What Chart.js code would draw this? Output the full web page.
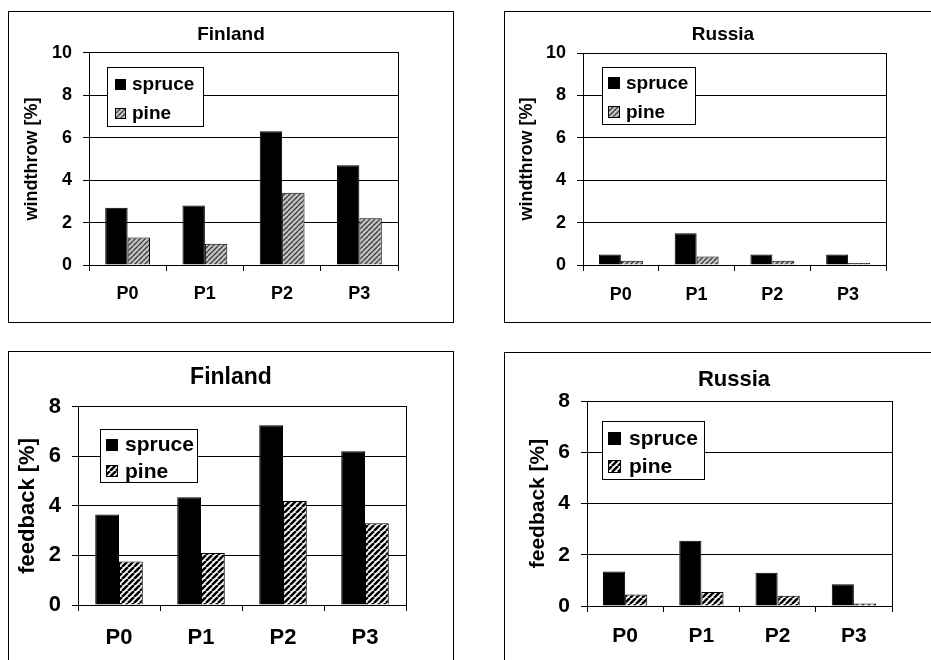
<!DOCTYPE html>
<html>
<head>
<meta charset="utf-8">
<script src="https://cdn.jsdelivr.net/npm/chart.js@4.4.1/dist/chart.umd.min.js"></script>
<style>
  html, body { margin: 0; padding: 0; background: #fff; overflow: hidden; width: 931px; height: 660px; }
  .box { position: absolute; }
  .frame { position: absolute; border: 1px solid #000; box-sizing: border-box; pointer-events: none; }
</style>
</head>
<body>
<div class="box" style="left:8px;top:11px;width:446px;height:312px"><canvas id="c1"></canvas></div>
<div class="frame" style="left:8px;top:11px;width:446px;height:312px"></div>
<div class="box" style="left:504px;top:11px;width:438px;height:312px"><canvas id="c2"></canvas></div>
<div class="frame" style="left:504px;top:11px;width:438px;height:312px"></div>
<div class="box" style="left:8px;top:351px;width:446px;height:312px"><canvas id="c3"></canvas></div>
<div class="frame" style="left:8px;top:351px;width:446px;height:312px"></div>
<div class="box" style="left:504px;top:352px;width:460px;height:312px"><canvas id="c4"></canvas></div>
<div class="frame" style="left:504px;top:352px;width:460px;height:312px"></div>
<script>
// data
var categories = ['P0', 'P1', 'P2', 'P3'];
var seriesNames = ['spruce', 'pine'];

var windFinlandSpruce = [2.7, 2.8, 6.3, 4.7];
var windFinlandPine = [1.3, 1.0, 3.4, 2.2];
var windRussiaSpruce = [0.5, 1.5, 0.5, 0.5];
var windRussiaPine = [0.2, 0.4, 0.2, 0.1];

var feedFinlandSpruce = [3.65, 4.35, 7.25, 6.2];
var feedFinlandPine = [1.75, 2.1, 4.2, 3.3];
var feedRussiaSpruce = [1.35, 2.55, 1.3, 0.85];
var feedRussiaPine = [0.45, 0.55, 0.4, 0.1];

var windTicks = [0, 2, 4, 6, 8, 10];
var feedTicks = [0, 2, 4, 6, 8];

Chart.defaults.font.family = '"Liberation Sans", Arial, sans-serif';
Chart.defaults.font.weight = 'bold';
Chart.defaults.color = '#000';

// diagonal hatch used for the pine bars
function hatch(bg, fg, size, lw) {
    var c = document.createElement('canvas');
    c.width = size;
    c.height = size;
    var x = c.getContext('2d');
    x.fillStyle = bg;
    x.fillRect(0, 0, size, size);
    x.strokeStyle = fg;
    x.lineWidth = lw;
    x.beginPath();
    [-size, 0, size].forEach(function (k) {
        x.moveTo(k, size);
        x.lineTo(k + size, 0);
    });
    x.stroke();
    return x.createPattern(c, 'repeat');
}

var greyHatch = hatch('#c4c4c4', '#3a3a3a', 5, 1.3);
var bwHatch = hatch('#ffffff', '#000000', 6, 2.6);

// legend in a white box inside the plot area
var boxLegend = {
    id: 'boxLegend',
    afterDatasetsDraw: function (chart, args, o) {
        var ctx = chart.ctx;
        var a = chart.chartArea;
        var x = Math.round(a.left + o.x);
        var y = Math.round(a.top + o.y);
        ctx.save();
        ctx.fillStyle = '#fff';
        ctx.fillRect(x, y, o.w, o.h);
        ctx.strokeStyle = '#000';
        ctx.lineWidth = 1;
        ctx.strokeRect(x + 0.5, y + 0.5, o.w, o.h);
        ctx.font = 'bold ' + o.font + 'px "Liberation Sans", Arial, sans-serif';
        ctx.textBaseline = 'middle';
        chart.data.datasets.forEach(function (ds, i) {
            var cy = y + o.rows[i];
            var sy = Math.round(cy - o.ss / 2);
            ctx.fillStyle = ds.backgroundColor;
            ctx.fillRect(x + o.sx, sy, o.ss, o.ss);
            ctx.strokeRect(x + o.sx + 0.5, sy + 0.5, o.ss - 1, o.ss - 1);
            ctx.fillStyle = '#000';
            ctx.fillText(ds.label, x + o.tx, cy + 1);
        });
        ctx.restore();
    }
};

function makeChart(id, p) {
    var ctx = document.getElementById(id).getContext('2d');
    return new Chart(ctx, {
        type: 'bar',
        data: {
            labels: categories,
            datasets: [{
                label: seriesNames[0],
                data: p.spruce,
                yAxisID: 'y',
                backgroundColor: '#000',
                borderColor: '#000',
                borderWidth: 1
            }, {
                label: seriesNames[1],
                data: p.pine,
                yAxisID: 'y',
                backgroundColor: p.pattern,
                borderColor: '#000',
                borderWidth: 1
            }]
        },
        options: {
            responsive: true,
            maintainAspectRatio: false,
            animation: false,
            layout: { padding: 0 },
            datasets: { bar: { categoryPercentage: 0.58, barPercentage: 1.0 } },
            plugins: {
                legend: { display: false },
                tooltip: { enabled: false },
                title: {
                    display: true,
                    text: p.title,
                    font: { size: p.titleSize, weight: 'bold' },
                    color: '#000',
                    padding: { top: p.titlePad[0], bottom: p.titlePad[1] }
                },
                boxLegend: p.legend
            },
            scales: {
                x: {
                    ticks: { font: { size: p.tickSize }, color: '#000', padding: p.xPad },
                    grid: { drawOnChartArea: false, color: '#000', tickLength: 6, offset: true },
                    border: { color: '#000' },
                    afterFit: function (s) { s.height = 58; }
                },
                y: {
                    min: 0,
                    max: p.ticks[p.ticks.length - 1],
                    afterBuildTicks: function (s) {
                        s.ticks = p.ticks.map(function (v) { return { value: v }; });
                    },
                    ticks: { font: { size: p.tickSize }, color: '#000', padding: 11 },
                    grid: { color: '#000', tickLength: 6 },
                    border: { color: '#000' },
                    title: {
                        display: true,
                        text: p.yTitle,
                        font: { size: p.axisSize, weight: 'bold' },
                        color: '#000',
                        padding: { top: p.yTitlePad, bottom: 0 }
                    },
                    afterFit: function (s) { s.width = p.yWidth; }
                },
                yRight: {
                    type: 'linear',
                    position: 'right',
                    ticks: { display: false },
                    grid: { display: false },
                    border: { color: '#000' },
                    afterFit: function (s) { s.width = p.rightWidth; }
                }
            }
        },
        plugins: [boxLegend]
    });
}

makeChart('c1', {
    title: 'Finland', yTitle: 'windthrow [%]',
    spruce: windFinlandSpruce, pine: windFinlandPine, pattern: greyHatch, ticks: windTicks,
    titleSize: 19, tickSize: 18, axisSize: 18,
    titlePad: [12, 7], yTitlePad: 13, xPad: 12.5,
    yWidth: 81, rightWidth: 56,
    legend: { x: 18, y: 14, w: 96, h: 59, sx: 8, ss: 11, tx: 25, rows: [17, 46], font: 19 }
});

makeChart('c2', {
    title: 'Russia', yTitle: 'windthrow [%]',
    spruce: windRussiaSpruce, pine: windRussiaPine, pattern: greyHatch, ticks: windTicks,
    titleSize: 19, tickSize: 18, axisSize: 18,
    titlePad: [12.6, 6.6], yTitlePad: 12.7, xPad: 13,
    yWidth: 79, rightWidth: 56,
    legend: { x: 19, y: 14, w: 93, h: 57, sx: 6, ss: 12, tx: 24, rows: [16, 45], font: 19 }
});

makeChart('c3', {
    title: 'Finland', yTitle: 'feedback [%]',
    spruce: feedFinlandSpruce, pine: feedFinlandPine, pattern: bwHatch, ticks: feedTicks,
    titleSize: 23, tickSize: 22, axisSize: 22,
    titlePad: [13.2, 14.9], yTitlePad: 6.3, xPad: 13.3,
    yWidth: 70, rightWidth: 48,
    legend: { x: 22, y: 22, w: 97, h: 53, sx: 6, ss: 12, tx: 25, rows: [15.5, 41.8], font: 21 }
});

makeChart('c4', {
    title: 'Russia', yTitle: 'feedback [%]',
    spruce: feedRussiaSpruce, pine: feedRussiaPine, pattern: bwHatch, ticks: feedTicks,
    titleSize: 22, tickSize: 21, axisSize: 21,
    titlePad: [14.8, 7.8], yTitlePad: 21.2, xPad: 12,
    yWidth: 83, rightWidth: 72,
    legend: { x: 15, y: 20, w: 102, h: 58, sx: 6, ss: 13, tx: 27, rows: [17, 45.5], font: 21 }
});
</script>
</body>
</html>
